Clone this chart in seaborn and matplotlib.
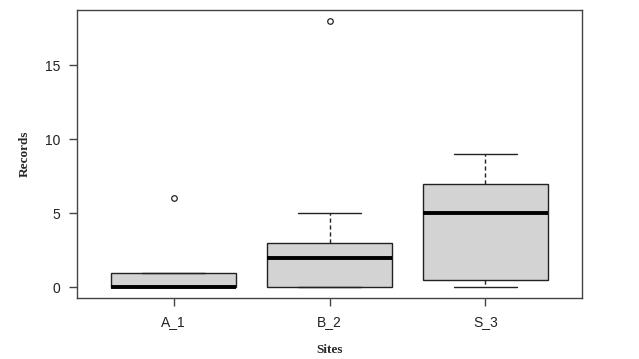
import pandas as pd
import seaborn as sns
import matplotlib.pyplot as plt

# raw records per site
a_1 = [0, 0, 0, 0, 0, 0, 1, 1, 1, 6]
b_2 = [0, 0, 0, 1, 2, 3, 3, 5, 18]
s_3 = [0, 0, 1, 5, 7, 7, 9]
sites = ['A_1', 'B_2', 'S_3']

data = pd.DataFrame({
    'Sites': ['A_1'] * len(a_1) + ['B_2'] * len(b_2) + ['S_3'] * len(s_3),
    'Records': a_1 + b_2 + s_3,
})

sns.set_theme(rc={"figure.figsize": (6.39, 3.59), "figure.dpi": 100})
sns.set_style('ticks')

fig = plt.figure()
ax = fig.add_axes([77 / 639, 61 / 359, 505 / 639, 288 / 359])

sns.boxplot(
    data=data, x='Sites', y='Records', order=sites, ax=ax,
    color='#D3D3D3', linecolor='#222222', linewidth=1, width=0.8, whis=1.5,
    medianprops=dict(linewidth=2.8, color='black'),
    whiskerprops=dict(linestyle=(0, (3, 2))),
    flierprops=dict(marker='o', markerfacecolor='none', markeredgecolor='#222222',
                    markersize=4, markeredgewidth=0.9),
)

ax.set_xlim(-0.62, 2.62)
ax.set_ylim(-0.72, 18.72)
ax.set_yticks([0, 5, 10, 15])
ax.set_yticklabels(['0', '5', '10', '15'])

for side in ['top', 'right', 'left', 'bottom']:
    ax.spines[side].set_visible(True)
    ax.spines[side].set_color('#444444')
    ax.spines[side].set_linewidth(1)

ax.tick_params(axis='both', direction='out', length=6, width=1, color='#444444',
               labelsize=10, labelcolor='#222222', pad=6)
for lbl in ax.get_xticklabels() + ax.get_yticklabels():
    lbl.set_family(['Liberation Sans', 'DejaVu Sans'])

ax.set_xlabel('Sites', family=['Liberation Serif', 'DejaVu Serif'], fontsize=9.5,
              fontweight='bold', labelpad=11)
ax.set_ylabel('Records', family=['Liberation Serif', 'DejaVu Serif'], fontsize=9.5,
              fontweight='bold', labelpad=10)

fig.savefig('out.png', dpi=100)
